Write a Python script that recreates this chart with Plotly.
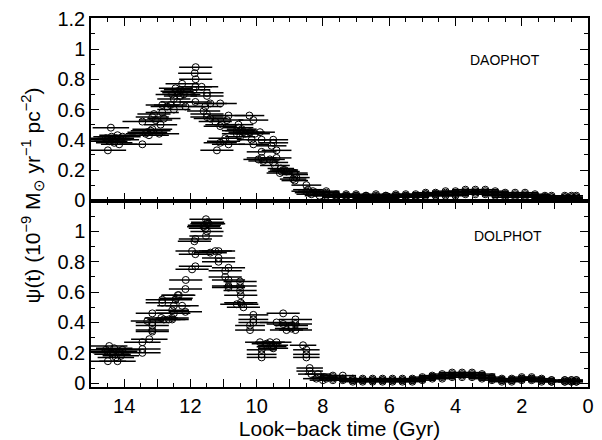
import plotly.graph_objects as go
from plotly.subplots import make_subplots

# ---------------- DATA ----------------
# DAOPHOT (top panel): groups of solutions, each group shares an error half-width
top_group_dt = [0.55, 0.6, 0.5, 0.5, 0.5, 0.5, 0.5, 0.45, 0.45, 0.45, 0.45, 0.4, 0.4, 0.45]
top_group_time = [
    [14.55, 14.5, 14.45, 14.4, 14.38, 14.35, 14.3, 14.25, 14.2, 14.15, 14.1, 14.05, 14.49],
    [13.45, 13.45, 13.3, 13.2, 13.15, 12.94, 13.35, 13.25],
    [13.15, 13.1, 13.05, 12.85, 12.85, 12.8, 12.7, 12.6, 12.9],
    [12.55, 12.5, 12.45, 12.4, 12.3, 12.25, 12.3, 12.2, 12.15, 12.5, 12.35, 12.4],
    [11.84, 11.87, 11.84, 11.85, 11.85, 11.9],
    [11.66, 11.5, 11.5, 11.4, 11.55, 11.6, 11.5, 11.5, 11.4, 11.1],
    [11.25, 11.2, 11.1, 11.1, 10.95, 10.9, 10.85, 10.85, 11.0, 11.05],
    [10.6, 10.55, 10.5, 10.5, 10.45, 10.4, 10.55, 10.35, 10.6],
    [10.22, 10.1, 10.15, 10.1, 10.2, 10.05],
    [9.9, 9.85, 9.85, 9.85, 9.95, 9.8],
    [9.5, 9.5, 9.55, 9.4, 9.4, 9.5, 9.45, 9.6],
    [9.27, 9.2, 9.25, 9.3, 9.15, 9.1],
    [8.86, 8.85, 8.9, 8.85, 8.8],
    [8.5, 8.45, 8.4, 8.5, 8.35, 8.3, 8.2, 8.1],
]
top_group_psi = [
    [0.41, 0.40, 0.39, 0.48, 0.42, 0.40, 0.38, 0.41, 0.43, 0.37, 0.40, 0.42, 0.33],
    [0.52, 0.37, 0.45, 0.46, 0.47, 0.44, 0.44, 0.43],
    [0.55, 0.57, 0.53, 0.63, 0.58, 0.54, 0.62, 0.63, 0.50],
    [0.70, 0.67, 0.74, 0.72, 0.73, 0.77, 0.69, 0.70, 0.62, 0.60, 0.71, 0.65],
    [0.88, 0.84, 0.80, 0.75, 0.65, 0.73],
    [0.75, 0.71, 0.69, 0.64, 0.62, 0.59, 0.57, 0.55, 0.54, 0.64],
    [0.52, 0.33, 0.49, 0.38, 0.41, 0.53, 0.56, 0.37, 0.39, 0.50],
    [0.46, 0.48, 0.46, 0.42, 0.47, 0.45, 0.50, 0.44, 0.44],
    [0.56, 0.53, 0.40, 0.37, 0.45, 0.44],
    [0.45, 0.40, 0.32, 0.28, 0.27, 0.26],
    [0.40, 0.38, 0.36, 0.33, 0.28, 0.25, 0.23, 0.27],
    [0.21, 0.20, 0.19, 0.18, 0.20, 0.19],
    [0.18, 0.17, 0.14, 0.13, 0.15],
    [0.10, 0.07, 0.05, 0.06, 0.04, 0.06, 0.05, 0.03],
]
# DAOPHOT low-level band (recent times): bin centre, half-width, solutions
top_band_time = [7.9, 7.6, 7.3, 7.0, 6.7, 6.4, 6.1, 5.8, 5.5, 5.2, 4.9, 4.6, 4.3, 4.0,
                 3.7, 3.4, 3.1, 2.8, 2.5, 2.2, 1.9, 1.6, 1.3, 1.1, 0.7, 0.5, 0.35]
top_band_dt = [0.4] * 24 + [0.2, 0.2, 0.2]
top_band_psi = [
    [0.04, 0.03, 0.05, 0.06], [0.03, 0.02, 0.04, 0.03], [0.03, 0.02, 0.04, 0.03],
    [0.03, 0.02, 0.04, 0.03], [0.02, 0.03, 0.01, 0.03], [0.02, 0.03, 0.04, 0.02],
    [0.02, 0.03, 0.01, 0.03], [0.02, 0.03, 0.04, 0.03], [0.03, 0.02, 0.04, 0.03],
    [0.03, 0.04, 0.02, 0.03], [0.03, 0.04, 0.05, 0.04], [0.04, 0.03, 0.05, 0.04],
    [0.04, 0.05, 0.03, 0.06], [0.04, 0.05, 0.03, 0.06], [0.05, 0.04, 0.06, 0.07],
    [0.05, 0.06, 0.04, 0.07], [0.05, 0.04, 0.06, 0.07], [0.04, 0.03, 0.05, 0.06],
    [0.03, 0.04, 0.02, 0.05], [0.03, 0.02, 0.04, 0.05], [0.03, 0.04, 0.02, 0.05],
    [0.03, 0.02, 0.04, 0.03], [0.02, 0.03, 0.01, 0.02], [0.02, 0.01, 0.03, 0.02],
    [0.02, 0.03, 0.01, 0.02], [0.02, 0.03, 0.02, 0.01], [0.02, 0.01, 0.02, 0.03],
]

# DOLPHOT (bottom panel)
bot_group_dt = [0.55, 0.55, 0.5, 0.5, 0.5, 0.5, 0.5, 0.5, 0.5, 0.5, 0.45, 0.45, 0.5, 0.4, 0.4]
bot_group_time = [
    [14.55, 14.5, 14.45, 14.4, 14.35, 14.3, 14.25, 14.2, 14.15, 14.1, 14.05, 14.49],
    [13.45, 13.45, 13.45, 13.24],
    [13.15, 13.15, 13.15, 13.15, 13.15, 13.3],
    [12.85, 12.85, 12.88, 12.8, 12.65, 12.55, 12.55, 12.55, 12.5, 12.5],
    [12.43, 12.38, 12.35, 12.25, 12.15, 12.15, 12.14, 12.45],
    [11.95, 11.85, 11.95, 11.85, 11.88, 11.85],
    [11.53, 11.5, 11.6, 11.45, 11.5, 11.53, 11.55, 11.48, 11.58],
    [11.4, 11.25, 11.15, 11.15, 11.15],
    [10.95, 10.85, 10.95, 10.85, 10.85, 10.85],
    [10.5, 10.5, 10.5, 10.48, 10.6, 10.48, 10.45, 10.4],
    [10.1, 10.1, 10.1, 10.2, 10.2],
    [9.9, 9.85, 9.85, 9.85, 9.7, 9.5, 9.5, 9.4, 9.6, 9.55],
    [9.2, 9.4, 9.2, 9.1, 8.95, 8.83, 8.83, 8.83, 8.95],
    [8.6, 8.5, 8.5, 8.5],
    [8.4, 8.4, 8.35, 8.15, 7.95, 8.2, 8.0, 7.9],
]
bot_group_psi = [
    [0.22, 0.21, 0.245, 0.20, 0.19, 0.23, 0.17, 0.145, 0.21, 0.18, 0.22, 0.145],
    [0.225, 0.20, 0.27, 0.29],
    [0.46, 0.40, 0.38, 0.35, 0.34, 0.41],
    [0.55, 0.53, 0.43, 0.42, 0.42, 0.42, 0.43, 0.48, 0.51, 0.46],
    [0.56, 0.58, 0.58, 0.51, 0.47, 0.62, 0.68, 0.55],
    [0.75, 0.77, 0.87, 0.85, 0.935, 0.95],
    [1.08, 1.05, 1.03, 1.05, 1.00, 0.97, 1.02, 1.06, 1.04],
    [0.86, 0.87, 0.87, 0.825, 0.80],
    [0.74, 0.76, 0.70, 0.68, 0.64, 0.63],
    [0.67, 0.64, 0.61, 0.58, 0.52, 0.53, 0.52, 0.50],
    [0.45, 0.42, 0.40, 0.38, 0.35],
    [0.27, 0.22, 0.19, 0.17, 0.26, 0.25, 0.23, 0.27, 0.27, 0.24],
    [0.46, 0.40, 0.39, 0.35, 0.38, 0.42, 0.39, 0.35, 0.36],
    [0.25, 0.22, 0.19, 0.17],
    [0.10, 0.08, 0.06, 0.06, 0.04, 0.03, 0.02, 0.03],
]
# DOLPHOT low-level band
bot_band_time = [7.7, 7.4, 7.1, 6.8, 6.5, 6.2, 5.9, 5.6, 5.3, 5.0, 4.7, 4.4, 4.1, 3.8,
                 3.5, 3.2, 2.9, 2.6, 2.3, 2.0, 1.7, 1.4, 1.1, 0.7, 0.5, 0.35]
bot_band_dt = [0.4] * 23 + [0.2, 0.2, 0.2]
bot_band_psi = [
    [0.04, 0.02, 0.03, 0.05], [0.03, 0.02, 0.05, 0.03], [0.02, 0.01, 0.03, 0.02],
    [0.02, 0.01, 0.03, 0.02], [0.01, 0.02, 0.02, 0.03], [0.02, 0.01, 0.03, 0.02],
    [0.02, 0.03, 0.01, 0.02], [0.03, 0.02, 0.01, 0.02], [0.02, 0.03, 0.01, 0.02],
    [0.03, 0.02, 0.04, 0.03], [0.04, 0.03, 0.05, 0.04], [0.05, 0.04, 0.06, 0.03],
    [0.06, 0.05, 0.07, 0.04], [0.06, 0.07, 0.05, 0.04], [0.06, 0.05, 0.07, 0.04],
    [0.05, 0.04, 0.06, 0.03], [0.03, 0.04, 0.02, 0.03], [0.02, 0.03, 0.01, 0.02],
    [0.03, 0.02, 0.02, 0.01], [0.03, 0.04, 0.02, 0.03], [0.03, 0.02, 0.04, 0.03],
    [0.02, 0.03, 0.01, 0.02], [0.02, 0.01, 0.02, 0.01], [0.01, 0.02, 0.01, 0.02],
    [0.01, 0.02, 0.01, 0.02], [0.01, 0.02, 0.01, 0.02],
]

x_tick_vals = list(range(0, 15))
x_tick_text = [str(v) if v % 2 == 0 else "" for v in x_tick_vals]
y_top_vals = [0, 0.2, 0.4, 0.6, 0.8, 1.0, 1.2]
y_top_text = ["0", "0.2", "0.4", "0.6", "0.8", "1", "1.2"]
y_bot_vals = [0, 0.2, 0.4, 0.6, 0.8, 1.0]
y_bot_text = ["0", "0.2", "0.4", "0.6", "0.8", "1"]
panel_labels = ["DAOPHOT", "DOLPHOT"]


def flatten(group_time, group_psi, group_dt, band_time, band_psi, band_dt):
    t, p, e = [], [], []
    for gt, gp, gd in zip(group_time, group_psi, group_dt):
        t.extend(gt)
        p.extend(gp)
        e.extend([gd] * len(gt))
    for bt, bp, bd in zip(band_time, band_psi, band_dt):
        t.extend([bt] * len(bp))
        p.extend(bp)
        e.extend([bd] * len(bp))
    return t, p, e


top_t, top_p, top_e = flatten(top_group_time, top_group_psi, top_group_dt,
                              top_band_time, top_band_psi, top_band_dt)
bot_t, bot_p, bot_e = flatten(bot_group_time, bot_group_psi, bot_group_dt,
                              bot_band_time, bot_band_psi, bot_band_dt)

FONT = "Liberation Sans, Arial, Helvetica, sans-serif"

fig = make_subplots(rows=2, cols=1, shared_xaxes=True, vertical_spacing=0)

for row, (t, p, e) in enumerate([(top_t, top_p, top_e), (bot_t, bot_p, bot_e)], start=1):
    fig.add_trace(
        go.Scatter(
            x=t, y=p, mode="markers",
            marker=dict(symbol="circle-open", size=7, color="black", line=dict(width=1, color="black")),
            error_x=dict(type="data", array=e, visible=True, width=0, thickness=1.5, color="black"),
            showlegend=False, cliponaxis=True,
        ),
        row=row, col=1,
    )

axis_common = dict(
    showline=True, linecolor="black", linewidth=1.5, mirror="ticks",
    ticks="inside", ticklen=8, tickwidth=1, tickcolor="black",
    showgrid=False, zeroline=False,
    tickfont=dict(family=FONT, size=20, color="black"),
)

fig.update_xaxes(
    range=[15, 0], tickmode="array", tickvals=x_tick_vals, ticktext=x_tick_text,
    minor=dict(dtick=0.5, ticks="inside", ticklen=4, tickwidth=1, tickcolor="black", showgrid=False),
    **axis_common,
)
fig.update_xaxes(showticklabels=False, row=1, col=1)
fig.update_xaxes(
    title=dict(text="Look\u2212back time (Gyr)", font=dict(family=FONT, size=21, color="black"), standoff=0),
    row=2, col=1,
)

fig.update_yaxes(
    minor=dict(dtick=0.1, ticks="inside", ticklen=4, tickwidth=1, tickcolor="black", showgrid=False),
    **axis_common,
)
fig.update_yaxes(range=[-0.005, 1.205], tickmode="array", tickvals=y_top_vals, ticktext=y_top_text,
                 domain=[0.504, 1.0], row=1, col=1)
fig.update_yaxes(range=[-0.025, 1.2], tickmode="array", tickvals=y_bot_vals, ticktext=y_bot_text,
                 domain=[0.0, 0.504], row=2, col=1)

fig.add_annotation(text=panel_labels[0], x=2.5, y=0.93, xref="x", yref="y",
                   showarrow=False, font=dict(family=FONT, size=14, color="black"))
fig.add_annotation(text=panel_labels[1], x=2.4, y=0.97, xref="x2", yref="y2",
                   showarrow=False, font=dict(family=FONT, size=14, color="black"))

fig.add_annotation(
    text="\u03c8(t) (10<sup>\u22129</sup> M<sub>\u2299</sub> yr<sup>\u22121</sup> pc<sup>\u22122</sup>)",
    x=-0.118, y=0.52, xref="paper", yref="paper", textangle=-90, showarrow=False,
    xanchor="center", yanchor="middle",
    font=dict(family=FONT, size=21, color="black"),
)

fig.update_layout(
    width=602, height=440,
    margin=dict(l=91, r=8, t=12, b=53),
    plot_bgcolor="white", paper_bgcolor="white",
    font=dict(family=FONT, color="black"),
)

fig.write_html("out.html")
